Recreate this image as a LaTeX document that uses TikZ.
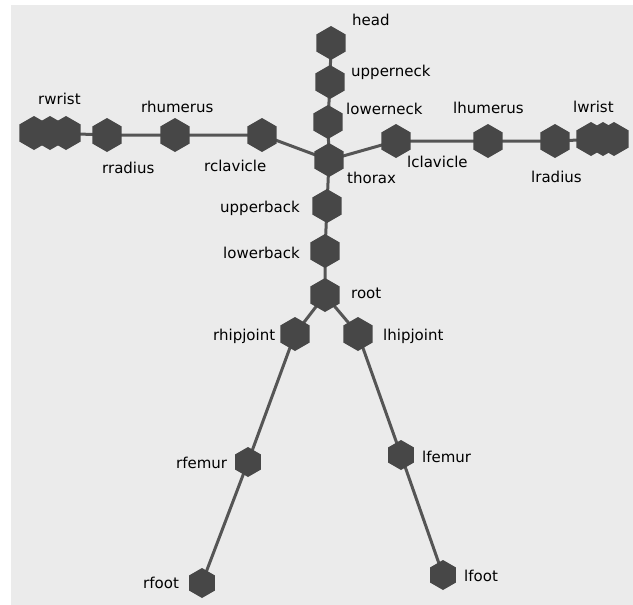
\documentclass[tikz,border=0pt]{standalone}
\usepackage{fontspec}
\setmainfont{DejaVu Sans}
\usetikzlibrary{shapes.geometric}
\pgfdeclarelayer{bg}
\pgfdeclarelayer{edges}
\pgfsetlayers{bg,edges,main}
\definecolor{panel}{HTML}{EBEBEB}
\definecolor{joint}{HTML}{474747}
\definecolor{bone}{HTML}{555555}
\tikzset{
  hexj/.style={regular polygon, regular polygon sides=6, shape border rotate=30,
    fill=joint, draw=none, inner sep=0pt, minimum size=34pt},
  hexs/.style={hexj, minimum size=30pt},
  lbl/.style={anchor=base west, inner sep=0pt, font=\fontsize{15}{15}\selectfont, text=black},
  bonel/.style={draw=bone, line width=3pt}
}
\begin{document}
\begin{tikzpicture}[x=1pt,y=-1pt]
\useasboundingbox (0,0) rectangle (633,605);
\begin{pgfonlayer}{bg}
\fill[white] (0,0) rectangle (633,605);
\fill[panel] (11,5) rectangle (633,605);
\end{pgfonlayer}
% spine
\node[hexj] (head) at (331,43) {};
\node[hexj] (upperneck) at (330,82) {};
\node[hexj] (lowerneck) at (328,122) {};
\node[hexj] (thorax) at (329,160) {};
\node[hexj] (upperback) at (327,206) {};
\node[hexj] (lowerback) at (325,251) {};
\node[hexj] (root) at (325,295) {};
% right arm
\node[hexj] (rclavicle) at (262,135) {};
\node[hexj] (rhumerus) at (175,135) {};
\node[hexj] (rradius) at (107,135) {};
\node[hexj] (rwrist) at (50,133) {};
\node[hexj] (rwristb) at (34,133) {};
\node[hexj] (rwristc) at (66,133) {};
% left arm
\node[hexj] (lclavicle) at (396,141) {};
\node[hexj] (lhumerus) at (488,141) {};
\node[hexj] (lradius) at (555,141) {};
\node[hexj] (lwrist) at (603,139) {};
\node[hexj] (lwristb) at (591,139) {};
\node[hexj] (lwristc) at (614,139) {};
% legs
\node[hexj] (rhipjoint) at (295,334) {};
\node[hexj] (lhipjoint) at (358,334) {};
\node[hexs] (rfemur) at (248,462) {};
\node[hexs] (lfemur) at (401,455) {};
\node[hexs] (rfoot) at (202,583) {};
\node[hexs] (lfoot) at (443,575) {};
% bones
\begin{pgfonlayer}{edges}
\draw[bonel] (head.center) -- (upperneck.center) -- (lowerneck.center) -- (thorax.center)
  -- (upperback.center) -- (lowerback.center) -- (root.center);
\draw[bonel] (thorax.center) -- (rclavicle.center) -- (rhumerus.center) -- (rradius.center) -- (rwrist.center);
\draw[bonel] (thorax.center) -- (lclavicle.center) -- (lhumerus.center) -- (lradius.center) -- (lwrist.center);
\draw[bonel] (root.center) -- (rhipjoint.center) -- (rfemur.center) -- (rfoot.center);
\draw[bonel] (root.center) -- (lhipjoint.center) -- (lfemur.center) -- (lfoot.center);
\end{pgfonlayer}
% labels
\node[lbl] (t-head) at (352,26) {head};
\node[lbl] (t-upperneck) at (351,76) {upperneck};
\node[lbl] (t-lowerneck) at (346,114) {lowerneck};
\node[lbl] (t-thorax) at (347,183) {thorax};
\node[lbl] (t-lclavicle) at (407,167) {lclavicle};
\node[lbl] (t-lhumerus) at (453,113) {lhumerus};
\node[lbl] (t-lwrist) at (573,112) {lwrist};
\node[lbl] (t-lradius) at (531,182) {lradius};
\node[lbl] (t-rwrist) at (38,104) {rwrist};
\node[lbl] (t-rhumerus) at (141,112) {rhumerus};
\node[lbl] (t-rradius) at (102,173) {rradius};
\node[lbl] (t-rclavicle) at (204,171) {rclavicle};
\node[lbl] (t-upperback) at (220,212) {upperback};
\node[lbl] (t-lowerback) at (223,258) {lowerback};
\node[lbl] (t-root) at (351,298) {root};
\node[lbl] (t-rhipjoint) at (213,340) {rhipjoint};
\node[lbl] (t-lhipjoint) at (383,340) {lhipjoint};
\node[lbl] (t-rfemur) at (176,468) {rfemur};
\node[lbl] (t-lfemur) at (422,462) {lfemur};
\node[lbl] (t-rfoot) at (143,588) {rfoot};
\node[lbl] (t-lfoot) at (464,581) {lfoot};
\end{tikzpicture}
\end{document}
